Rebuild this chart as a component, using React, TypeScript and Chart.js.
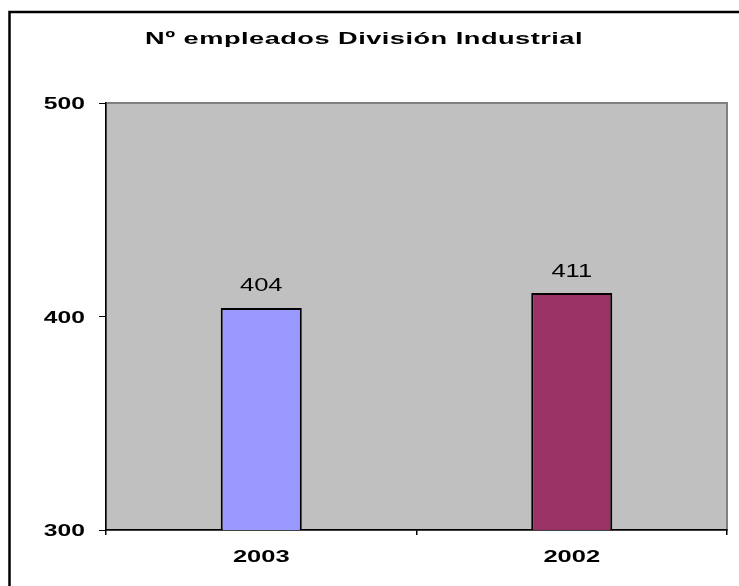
import React, { useEffect, useRef } from "react";
import { Chart, registerables } from "chart.js";

Chart.register(...registerables);

const TITLE = "Nº empleados División Industrial";
const categories = ["2003", "2002"];
const values = [404, 411];
const barColors = ["#9999FF", "#993366"];
const yTicks = [300, 400, 500];

const FONT = "'Liberation Sans', Arial, sans-serif";

function stretchedText(
  ctx: CanvasRenderingContext2D,
  text: string,
  x: number,
  y: number,
  sx: number,
  align: CanvasTextAlign,
  font: string,
  spacing = "0px"
) {
  ctx.save();
  ctx.font = font;
  (ctx as any).letterSpacing = spacing;
  ctx.fillStyle = "#000000";
  ctx.textAlign = align;
  ctx.textBaseline = "alphabetic";
  ctx.translate(x, y);
  ctx.scale(sx, 1);
  ctx.fillText(text, 0, 0);
  ctx.restore();
}

const framePlugin = {
  id: "frame",
  beforeDraw(chart: any) {
    const { ctx, chartArea } = chart;
    ctx.save();
    ctx.fillStyle = "#ffffff";
    ctx.fillRect(0, 0, chart.width, chart.height);
    ctx.strokeStyle = "#000000";
    ctx.lineWidth = 2.5;
    ctx.strokeRect(9.5, 12, chart.width + 20, chart.height + 20);
    ctx.fillStyle = "#C0C0C0";
    ctx.fillRect(chartArea.left, chartArea.top, chartArea.right - chartArea.left, chartArea.bottom - chartArea.top);
    ctx.strokeStyle = "#808080";
    ctx.lineWidth = 2;
    ctx.strokeRect(chartArea.left, chartArea.top, chartArea.right - chartArea.left, chartArea.bottom - chartArea.top);
    ctx.restore();
  },
};

const textPlugin = {
  id: "texts",
  afterDraw(chart: any) {
    const { ctx } = chart;
    // title
    stretchedText(ctx, TITLE, 364, 44, 1.6, "center", `bold 17px ${FONT}`, "0.3px");
    // y tick labels
    const ys = chart.scales.y;
    yTicks.forEach((v) => {
      const py = ys.getPixelForValue(v);
      stretchedText(ctx, String(v), 85, py + 6, 1.45, "right", `bold 17px ${FONT}`);
    });
    // x tick labels
    const xs = chart.scales.x;
    categories.forEach((c, i) => {
      const px = xs.getPixelForValue(i);
      stretchedText(ctx, c, px, xs.top + 32, 1.5, "center", `bold 17px ${FONT}`);
    });
    // value labels
    const meta = chart.getDatasetMeta(0);
    meta.data.forEach((el: any, i: number) => {
      stretchedText(ctx, String(values[i]), el.x, el.y - 16.5, 1.42, "center", `18px ${FONT}`);
    });
  },
};

export default function App() {
  const ref = useRef<HTMLCanvasElement>(null);
  useEffect(() => {
    if (!ref.current) return;
    const chart = new Chart(ref.current, {
      type: "bar",
      data: {
        labels: categories,
        datasets: [
          {
            data: values,
            backgroundColor: barColors,
            borderColor: "#000000",
            borderWidth: 2,
            borderSkipped: false,
            categoryPercentage: 1,
            barPercentage: 0.261,
          },
        ],
      },
      plugins: [framePlugin, textPlugin],
      options: {
        animation: false,
        responsive: false,
        layout: { padding: { left: 0, right: 12, top: 103, bottom: 0 } },
        plugins: {
          legend: { display: false },
          tooltip: { enabled: false },
          title: { display: false },
        },
        scales: {
          x: {
            offset: true,
            grid: {
              offset: true,
              drawOnChartArea: false,
              drawTicks: true,
              tickLength: 5,
              color: "#000000",
              lineWidth: 1.5,
            },
            border: { color: "#000000", width: 1.5 },
            ticks: { display: false },
            afterFit(scale: any) {
              scale.height = 56;
            },
          },
          y: {
            min: 300,
            max: 500,
            afterBuildTicks(scale: any) {
              scale.ticks = yTicks.map((v) => ({ value: v }));
            },
            grid: {
              drawOnChartArea: false,
              drawTicks: true,
              tickLength: 7,
              color: "#000000",
              lineWidth: 1,
            },
            border: { color: "#000000", width: 1.5 },
            ticks: { display: false },
            afterFit(scale: any) {
              scale.width = 106;
            },
          },
        },
      },
    });
    return () => chart.destroy();
  }, []);
  return (
    <div style={{ position: "absolute", left: 0, top: 0, width: 739, height: 586 }}>
      <canvas ref={ref} width={739} height={586} style={{ display: "block" }} />
    </div>
  );
}
